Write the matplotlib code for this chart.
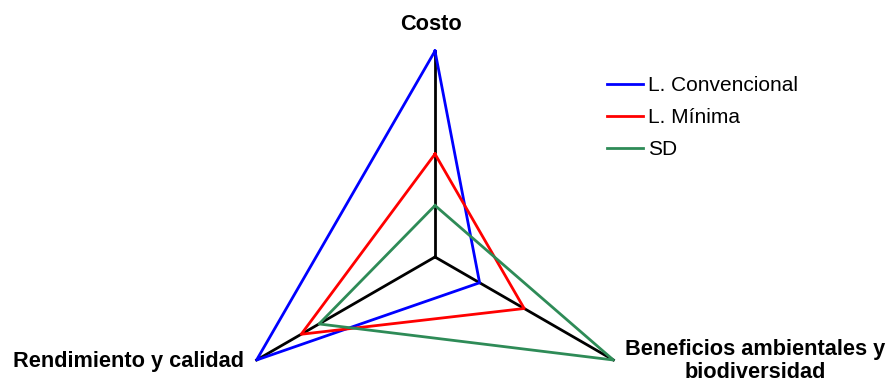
import numpy as np
import matplotlib
matplotlib.use("Agg")
import matplotlib.pyplot as plt

plt.rcParams["font.family"] = ["Liberation Sans", "DejaVu Sans"]

ejes = ["Costo", "Beneficios ambientales y\nbiodiversidad", "Rendimiento y calidad"]
series = ["L. Convencional", "L. Mínima", "SD"]
convencional = [1.0, 0.25, 1.0]
minima = [0.5, 0.5, 0.75]
sd = [0.25, 1.0, 0.65]
colores = ["#0000FF", "#FF0000", "#2E8B57"]

W, H = 891, 385
fig = plt.figure(figsize=(W / 100, H / 100), dpi=100)

# centro del radar y radio en pixeles
cx, cy, r = 435, 257, 206
ax = fig.add_axes([(cx - r) / W, (H - cy - r) / H, 2 * r / W, 2 * r / H],
                  projection="polar")
ax.set_theta_offset(np.pi / 2)
ax.set_theta_direction(-1)
ax.set_ylim(0, 1)
ax.axis("off")

angulos = np.linspace(0, 2 * np.pi, len(ejes), endpoint=False)

# radios negros
for a in angulos:
    ax.plot([a, a], [0, 1], color="black", lw=2, clip_on=False)

for nombre, valores, c in zip(series, [convencional, minima, sd], colores):
    a = np.append(angulos, angulos[0])
    v = np.append(valores, valores[0])
    ax.plot(a, v, color=c, lw=2, label=nombre, clip_on=False)

# etiquetas de los ejes
fs = 15.7
fig.text(431 / W, 1 - 24 / H, ejes[0], ha="center", va="center",
         fontsize=fs, fontweight="bold")
fig.text(755 / W, 1 - 361 / H, ejes[1], ha="center", va="center",
         fontsize=fs, fontweight="bold", linespacing=1.15)
fig.text(244 / W, 1 - 361 / H, ejes[2], ha="right", va="center",
         fontsize=fs, fontweight="bold")

ax.legend(loc="upper left", bbox_to_anchor=(607 / W, 1 - 76 / H),
          bbox_transform=fig.transFigure, frameon=False, fontsize=15,
          handlelength=1.73, handletextpad=0.24, labelspacing=0.63,
          borderpad=0, borderaxespad=0)

fig.savefig("out.png", dpi=100)
